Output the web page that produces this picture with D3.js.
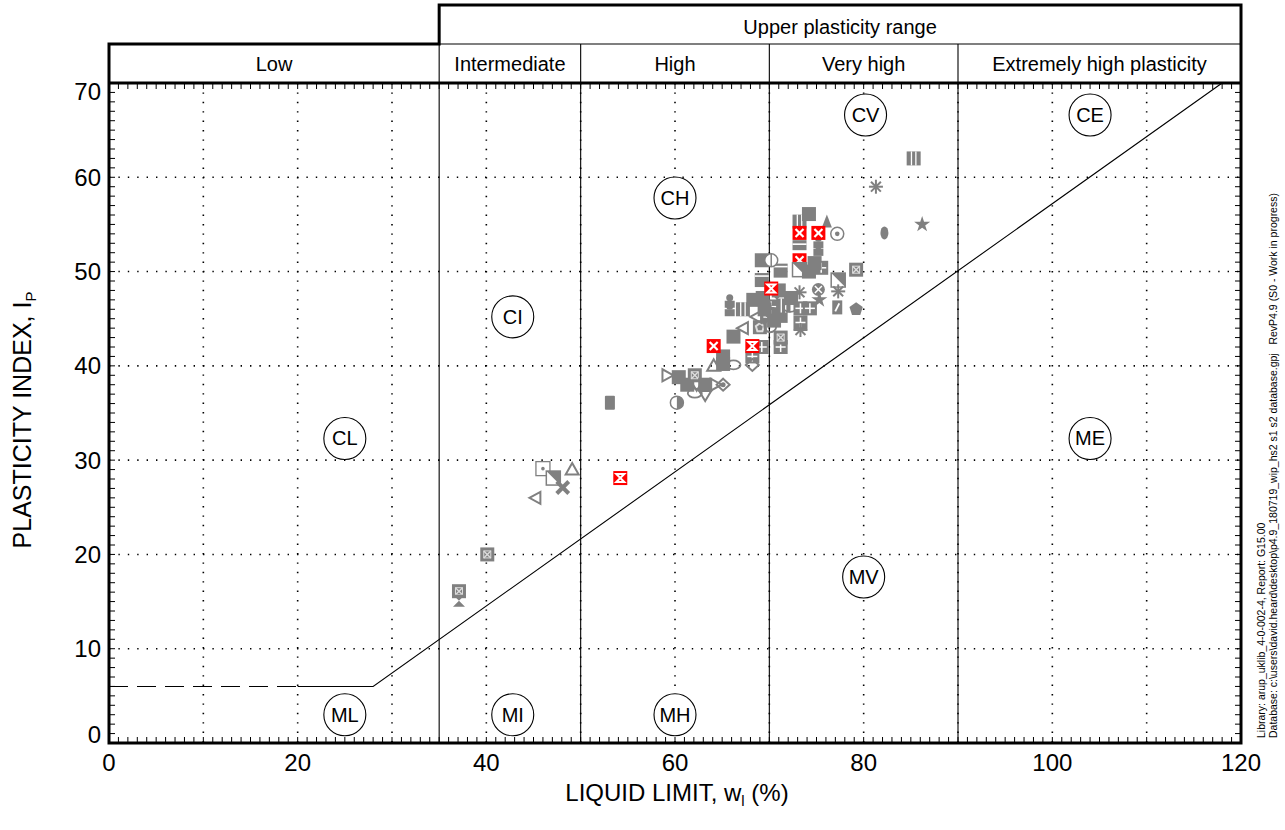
<!DOCTYPE html>
<html><head><meta charset="utf-8">
<script src="https://cdn.jsdelivr.net/npm/d3@7"></script>
<style>body{margin:0;background:#fff}svg{display:block}text{font-family:Arial,"Liberation Sans",sans-serif;fill:#000}</style>
</head><body><svg id="c" width="1285" height="830"></svg>
<script>
// ---------- data ----------
const xTicks=[0,20,40,60,80,100,120];
const yTicks=[0,10,20,30,40,50,60,70];
const rangeNames=["Low","Intermediate","High","Very high","Extremely high plasticity"];
const rangeBounds=[0,35,50,70,90,120];
const upperLabel="Upper plasticity range";
const zoneLabels=["CL","ML","CI","MI","CH","MH","CV","MV","CE","ME"];
const zoneLL=[25,25,42.8,42.8,60,60,80.2,80,104,104];
const zonePI=[32.3,3,45.2,3,57.8,3,66.6,17.6,66.6,32.3];
const aLineDashLL=[0,20];
const aLineDashPI=[6,6];
const aLineLL=[20,28,118];
const aLinePI=[6,6,70];
const sampleLL=[37.1,37.1,40.1,45.2,46.0,47.1,48.1,49.1,53.1,60.2,59.2,60.4,61.3,62.1,62.3,63.2,64.3,65.1,62.1,63.2,64.1,65.1,65.1,66.2,68.2,68.2,69.2,71.2,71.2,66.2,67.2,69.0,70.1,65.8,65.8,67.2,68.3,69.3,70.2,71.2,69.8,70.8,71.5,69.5,70.5,68.6,72.2,72.3,71.0,73.3,73.3,73.3,74.3,73.2,75.3,75.2,77.2,79.2,77.3,77.3,79.2,69.2,71.2,69.2,70.2,73.2,73.2,74.2,75.5,74.8,75.2,75.2,73.2,77.2,73.2,74.2,76.1,85.3,81.3,82.2,86.2,70.2,68.2,64.1,54.2,73.2,75.2];
const samplePI=[16.1,15.1,20.0,26.0,29.1,28.1,27.1,29.0,36.1,36.1,39.0,38.8,38.0,39.0,38.0,38.0,38.0,38.0,37.1,36.9,40.0,40.2,41.0,40.1,41.0,40.1,42.0,42.0,43.0,43.1,44.0,44.1,44.2,46.8,45.9,46.0,47.0,47.2,46.3,45.3,45.5,47.0,46.4,46.0,44.8,45.2,46.2,47.2,48.0,44.6,43.8,46.1,46.1,47.8,47.0,48.1,46.2,46.0,49.1,47.9,50.2,49.1,50.1,51.2,51.2,51.2,50.2,50.0,50.4,50.9,52.3,53.1,52.8,54.0,55.3,56.1,55.3,62.0,59.0,54.1,55.0,48.2,42.1,42.1,28.1,54.1,54.1];
const sampleMarker=["sqX","bowtie","sqX","triL","sqDot","sqHalf","xBold","triUp","rectFill","halfCirc","triR","sqFill","sqFill","sqX","triD","sqFill","triR","diamDot","ellipseO","triD","triUp","sqFill","sqFill","ellipseO","sqGrid","diamO","sqGrid","sqGrid","sqX","sqFill","triL","sqPent","circO","pawn","pawn","stripesV","sqFill","sqFill","sqGrid","sqFill","sqX","bowtie","stripesV","sqFill","sqFill","triL","ellipseO","sqFill","sqFill","sqGrid","asterisk","sqGrid","sqGrid","asterisk","star","circX","rectSlash","pentFill","sqHalf","asterisk","sqX","sqLine","sqLine","sqFill","circLine","redX","sqHalf","sqFill","sqGrid","sqFill","pawn","pawn","rectLine","circDot","stripesV","sqFill","triFill","stripesV","asterisk","ellipseFill","star","redHour","redHour","redX","redHour","redX","redX"];
const footLine1="Library: arup_uklib_4-0-002-4, Report: G15.00";
const footLine2="Database: c:\\users\\david.heard\\desktop\\p4.9_180719_wip_hs2 s1 s2 database.gpj   RevP4.9 (S0 - Work in progress)";

// ---------- layout ----------
const svg=d3.select("#c");
const x=d3.scaleLinear().domain([0,120]).range([109,1241]);
const y=d3.scaleLinear().domain([0,70]).range([743,83]);
const G="#808080", R="#ff0000";
const topRow=5, midRow=44, plotTop=y(70), plotBot=y(0);

// grid
const gx=d3.range(10,120,10), gy=d3.range(10,70,10);
svg.append("g").selectAll("line").data(gx).join("line")
  .attr("x1",d=>x(d)).attr("x2",d=>x(d)).attr("y1",plotTop).attr("y2",plotBot)
  .attr("stroke","#000").attr("stroke-width",1.6).attr("stroke-dasharray","1.4,8");
svg.append("g").selectAll("line").data(gy).join("line")
  .attr("y1",d=>y(d)).attr("y2",d=>y(d)).attr("x1",x(0)).attr("x2",x(120))
  .attr("stroke","#000").attr("stroke-width",1.6).attr("stroke-dasharray","1.4,8");

// minor ticks
const tk=svg.append("g").attr("stroke","#000").attr("stroke-width",1);
d3.range(1,120).forEach(v=>{
  tk.append("line").attr("x1",x(v)).attr("x2",x(v)).attr("y1",plotBot).attr("y2",plotBot-6);
  tk.append("line").attr("x1",x(v)).attr("x2",x(v)).attr("y1",plotTop).attr("y2",plotTop+6);
});
d3.range(1,70).forEach(v=>{
  tk.append("line").attr("y1",y(v)).attr("y2",y(v)).attr("x1",x(0)).attr("x2",x(0)+6);
  tk.append("line").attr("y1",y(v)).attr("y2",y(v)).attr("x1",x(120)).attr("x2",x(120)-6);
});

// range divider lines (thin)
const thin=svg.append("g").attr("stroke","#000").attr("stroke-width",1.1);
rangeBounds.slice(1,-1).forEach(b=>{
  thin.append("line").attr("x1",x(b)).attr("x2",x(b)).attr("y1",midRow).attr("y2",plotBot);
});
thin.append("line").attr("x1",x(35)).attr("x2",x(120)).attr("y1",midRow).attr("y2",midRow);

// A-line
const line=d3.line().x(d=>x(d[0])).y(d=>y(d[1]));
svg.append("path").attr("d",line(aLineDashLL.map((v,i)=>[v,aLineDashPI[i]])))
  .attr("fill","none").attr("stroke","#000").attr("stroke-width",1.1).attr("stroke-dasharray","19,9");
svg.append("path").attr("d",line(aLineLL.map((v,i)=>[v,aLinePI[i]])))
  .attr("fill","none").attr("stroke","#000").attr("stroke-width",1.1);

// thick frame
const thick=svg.append("g").attr("stroke","#000").attr("stroke-width",3).attr("fill","none");
thick.append("path").attr("d",`M${x(0)},${plotBot}V${midRow}H${x(35)}V${topRow}H${x(120)}V${plotBot}Z`);
thick.append("line").attr("x1",x(0)).attr("x2",x(120)).attr("y1",plotTop).attr("y2",plotTop);

// header labels
svg.append("text").attr("x",(x(35)+x(120))/2).attr("y",34).attr("text-anchor","middle")
  .attr("font-size",20).text(upperLabel);
rangeNames.forEach((n,i)=>{
  svg.append("text").attr("x",(x(rangeBounds[i])+x(rangeBounds[i+1]))/2).attr("y",71)
    .attr("text-anchor","middle").attr("font-size",20).text(n);
});

// zone circles
const zg=svg.append("g").selectAll("g").data(zoneLabels).join("g")
  .attr("transform",(d,i)=>`translate(${x(zoneLL[i])},${y(zonePI[i])})`);
zg.append("circle").attr("r",21).attr("fill","#fff").attr("stroke","#000").attr("stroke-width",1.1);
zg.append("text").attr("text-anchor","middle").attr("y",7).attr("font-size",20).text(d=>d);

// markers
function marker(g,t){
  const h=7;
  const rect=(c)=>g.append("rect").attr("x",-h).attr("y",-h).attr("width",2*h).attr("height",2*h).attr("fill",c);
  const ln=(x1,y1,x2,y2,c,w)=>g.append("line").attr("x1",x1).attr("y1",y1).attr("x2",x2).attr("y2",y2).attr("stroke",c).attr("stroke-width",w||1.5);
  const poly=(pts,fill,stroke)=>g.append("polygon").attr("points",pts.map(p=>p.join(",")).join(" ")).attr("fill",fill).attr("stroke",stroke||"none").attr("stroke-width",2);
  switch(t){
    case "sqFill": rect(G); break;
    case "sqX": rect(G); ln(-3.5,-3.5,3.5,3.5,"#ddd",1.4); ln(-3.5,3.5,3.5,-3.5,"#ddd",1.4);
      g.append("rect").attr("x",-3.5).attr("y",-3.5).attr("width",7).attr("height",7).attr("fill","none").attr("stroke","#ddd").attr("stroke-width",1); break;
    case "sqGrid": rect(G); ln(0,-h+2,0,h-2,"#fff",1.5); ln(-h+2,0,h-2,0,"#fff",1.5); break;
    case "redX": rect(R); ln(-4,-4,4,4,"#fff",2.2); ln(-4,4,4,-4,"#fff",2.2); break;
    case "redHour": rect(R); poly([[-4,-4],[4,-4],[-4,4],[4,4]],"none","#fff"); break;
    case "sqDot": g.append("rect").attr("x",-h).attr("y",-h).attr("width",2*h).attr("height",2*h).attr("fill","#fff").attr("stroke",G).attr("stroke-width",1.3);
      g.append("circle").attr("r",1.8).attr("fill",G); break;
    case "sqHalf": g.append("rect").attr("x",-h).attr("y",-h).attr("width",2*h).attr("height",2*h).attr("fill","#fff").attr("stroke",G).attr("stroke-width",1.5);
      poly([[-h,-h],[h,-h],[h,h]],G); break;
    case "sqPent": rect(G); poly([[0,-4],[4,-1],[2.5,4],[-2.5,4],[-4,-1]],"none","#ddd"); break;
    case "sqLine": rect(G); ln(-h,-h+3,h,-h+3,"#fff",1.6); break;
    case "rectLine": g.append("rect").attr("x",-h).attr("y",-5).attr("width",2*h).attr("height",10).attr("fill",G); ln(-h,-1,h,-1,"#fff",1.6); break;
    case "stripesV": rect(G); ln(-2.2,-h,-2.2,h,"#fff",1.3); ln(2.2,-h,2.2,h,"#fff",1.3); break;
    case "rectFill": g.append("rect").attr("x",-5).attr("y",-7).attr("width",10).attr("height",14).attr("rx",1).attr("fill",G); break;
    case "rectSlash": g.append("rect").attr("x",-5).attr("y",-7).attr("width",10).attr("height",14).attr("fill",G); ln(-2,4,2,-4,"#fff",1.8); break;
    case "triL": poly([[-6,0],[5,-6],[5,6]],"none",G); break;
    case "triR": poly([[6,0],[-5,-6],[-5,6]],"none",G); break;
    case "triUp": poly([[0,-6.5],[6.5,5],[-6.5,5]],"none",G); break;
    case "triD": poly([[0,6],[6,-4],[-6,-4]],"none",G); break;
    case "triFill": poly([[0,-7],[5,6],[-5,6]],G); break;
    case "diamO": poly([[0,-6],[6.5,0],[0,6],[-6.5,0]],"none",G); break;
    case "diamDot": poly([[0,-6],[6.5,0],[0,6],[-6.5,0]],"none",G); g.append("circle").attr("r",2.5).attr("fill",G); break;
    case "ellipseO": g.append("ellipse").attr("rx",7).attr("ry",4.5).attr("fill","none").attr("stroke",G).attr("stroke-width",1.8); break;
    case "ellipseFill": g.append("ellipse").attr("rx",4).attr("ry",6.5).attr("fill",G); break;
    case "circO": g.append("circle").attr("r",6).attr("fill","none").attr("stroke",G).attr("stroke-width",1.8); break;
    case "circDot": g.append("circle").attr("r",6.5).attr("fill","#fff").attr("stroke",G).attr("stroke-width",1.5); g.append("circle").attr("r",2.3).attr("fill",G); break;
    case "circX": g.append("circle").attr("r",6.5).attr("fill",G); ln(-3.5,-3.5,3.5,3.5,"#fff",1.5); ln(-3.5,3.5,3.5,-3.5,"#fff",1.5); break;
    case "circLine": g.append("circle").attr("r",6.5).attr("fill","#fff").attr("stroke",G).attr("stroke-width",1.5); ln(0,-6.5,0,6.5,G,1.5); break;
    case "halfCirc": g.append("circle").attr("r",6.5).attr("fill","#fff").attr("stroke",G).attr("stroke-width",1.5);
      g.append("path").attr("d","M0,-6.5A6.5,6.5 0 0 1 0,6.5Z").attr("fill",G); break;
    case "pentFill":
      poly(d3.range(5).map(k=>{const a=-Math.PI/2+k*2*Math.PI/5;return [7*Math.cos(a),7*Math.sin(a)];}),G); break;
    case "star": g.append("path").attr("d",d3.symbol(d3.symbolStar,80)()).attr("fill",G); break;
    case "asterisk": [0,45,90,135].forEach(a=>{const r=a*Math.PI/180;ln(-7*Math.cos(r),-7*Math.sin(r),7*Math.cos(r),7*Math.sin(r),G,2);}); break;
    case "xBold": ln(-6,-6,6,6,G,4); ln(-6,6,6,-6,G,4); break;
    case "bowtie": poly([[-6,-6],[6,-6],[-6,6],[6,6]],G); break;
    case "pawn": g.append("circle").attr("cy",-4).attr("r",3.5).attr("fill",G);
      g.append("rect").attr("x",-5).attr("y",-1).attr("width",10).attr("height",7).attr("fill",G); break;
    default: rect(G);
  }
}
const pts=sampleLL.map((v,i)=>({ll:v,pi:samplePI[i],m:sampleMarker[i]}));
svg.append("g").selectAll("g").data(pts).join("g")
  .attr("transform",d=>`translate(${x(d.ll)},${y(d.pi)})`)
  .each(function(d){marker(d3.select(this),d.m);});

// tick labels
svg.append("g").selectAll("text").data(xTicks).join("text")
  .attr("x",d=>x(d)).attr("y",771).attr("text-anchor","middle").attr("font-size",24).text(d=>d);
svg.append("g").selectAll("text").data(yTicks).join("text")
  .attr("x",101).attr("y",d=>d===70?y(d)+17:d===0?y(d):y(d)+8.5).attr("text-anchor","end").attr("font-size",24).text(d=>d);

// axis titles
const xt=svg.append("text").attr("x",677).attr("y",801).attr("text-anchor","middle").attr("font-size",24);
xt.append("tspan").text("LIQUID LIMIT, w");
xt.append("tspan").attr("font-size",15).attr("dy",5).text("l");
xt.append("tspan").attr("dy",-5).text(" (%)");
const yt=svg.append("text").attr("transform","translate(31,420) rotate(-90)").attr("text-anchor","middle").attr("font-size",25);
yt.append("tspan").text("PLASTICITY INDEX, I");
yt.append("tspan").attr("font-size",15).attr("dy",5).text("P");

// footer (vertical)
svg.append("text").attr("transform","translate(1265,738) rotate(-90)").attr("font-size",10.5).text(footLine1);
svg.append("text").attr("transform","translate(1277,738) rotate(-90)").attr("font-size",10.5).style("white-space","pre").text(footLine2);
</script></body></html>
